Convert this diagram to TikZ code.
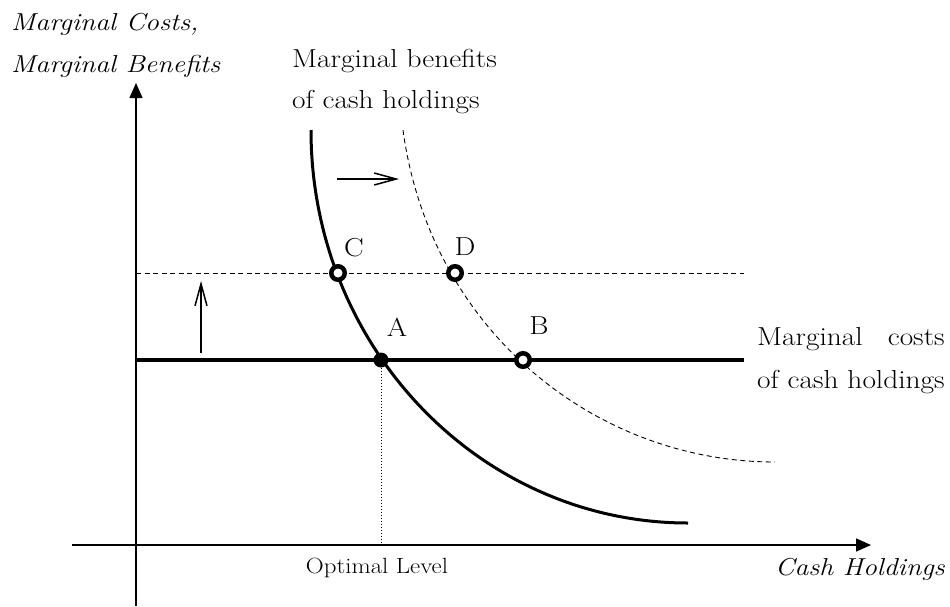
\documentclass[tikz,border=0pt]{standalone}
\usepackage{fontspec}
\setmainfont{Latin Modern Roman}[FakeStretch=1.13]
\usetikzlibrary{arrows.meta}
\begin{document}
\begin{tikzpicture}[x=1pt,y=-1pt,
  lbl/.style={inner sep=0pt,font=\fontsize{26}{41}\selectfont},
  axis/.style={line width=1.6pt,-{Triangle[length=15pt,width=13pt]}},
  thickline/.style={line width=3.6pt},
  dashline/.style={line width=0.9pt,dash pattern=on 5pt off 3.5pt},
  shiftarrow/.style={line width=1.5pt,-{Straight Barb[length=22pt,width=12pt,line width=1.5pt]}},
  opencirc/.style={circle,draw,fill=white,line width=4.5pt,minimum size=13.5pt,inner sep=0pt},
  filledcirc/.style={circle,fill=black,minimum size=15pt,inner sep=0pt}]
\useasboundingbox (0,0) rectangle (950,606);
% axes
\coordinate (ybot) at (136,606);
\coordinate (ytop) at (136,83);
\coordinate (xl) at (72,545);
\coordinate (xr) at (871,545);
\draw[axis] (ybot) -- (ytop);
\draw[axis] (xl) -- (xr);
% horizontal lines
\coordinate (mc1) at (136,360);
\coordinate (mc2) at (744,360);
\coordinate (hd1) at (136,273);
\coordinate (hd2) at (744,273);
\draw[dashline] (hd1) -- (hd2);
\draw[thickline] (mc1) -- (mc2);
% curves
\coordinate (mb1) at (311,130);
\coordinate (mb2) at (688,523);
\draw[line width=3pt] (mb1) .. controls (311,347) and (480,523) .. (mb2);
\coordinate (nb1) at (403,130);
\coordinate (nb2) at (775,462);
\draw[dashline] (nb1) .. controls (430,330) and (595,462) .. (nb2);
% optimal level dotted
\coordinate (opt) at (381,545);
\node[filledcirc] (A) at (381,360) {};
\draw[line width=1pt,dotted] (A) -- (opt);
% points
\node[opencirc] (C) at (338,273) {};
\node[opencirc] (D) at (455,273) {};
\node[opencirc] (B) at (523,360) {};
% point labels
\node[lbl] (lC) at (354,248) {C};
\node[lbl] (lD) at (465,247) {D};
\node[lbl] (lA) at (397,327) {A};
\node[lbl] (lB) at (539,326) {B};
% shift arrows
\coordinate (u1) at (201,353);
\coordinate (u2) at (201,281);
\draw[shiftarrow] (u1) -- (u2);
\coordinate (r1) at (337,179);
\coordinate (r2) at (399,179);
\draw[shiftarrow] (r1) -- (r2);
% texts
\node[lbl,anchor=base west,align=left,font=\fontsize{24.5}{42}\selectfont\itshape] (ylab) at (11,72) {Marginal Costs,\\Marginal Benefits};
\node[lbl,anchor=base west,align=left] (mblab) at (292,108) {Marginal benefits\\of cash holdings};
\node[lbl,anchor=base west,font=\fontsize{26}{43}\selectfont] (mclab) at (757,345) {\begin{tabular}[t]{@{}l@{}}Marginal\hfill costs\\of cash holdings\end{tabular}};
\node[lbl,anchor=base,font=\fontsize{22}{26}\selectfont] (optlab) at (377,573) {Optimal Level};
\node[lbl,font=\fontsize{24.5}{30}\selectfont\itshape,anchor=base east] (xlab) at (945,575) {Cash Holdings};
\end{tikzpicture}
\end{document}
